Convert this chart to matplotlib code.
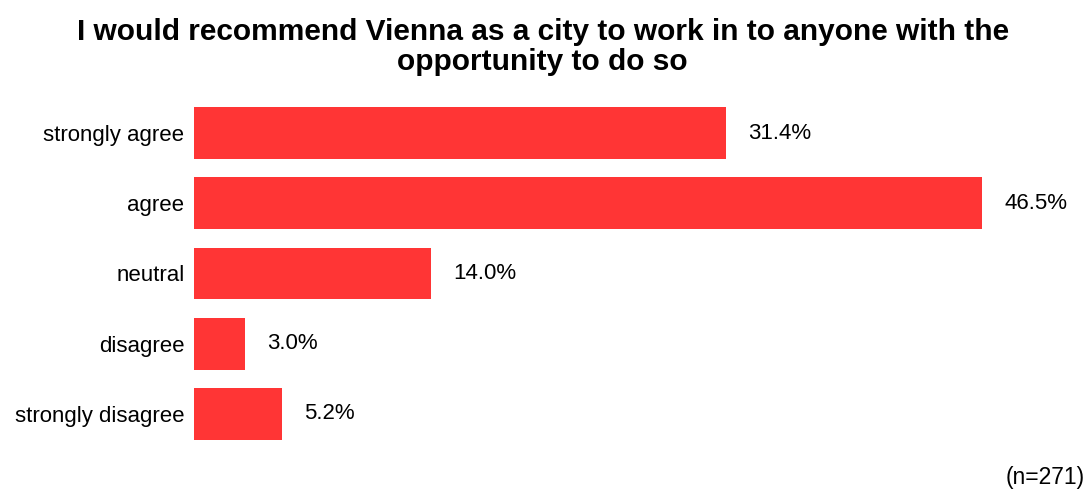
import matplotlib
matplotlib.use("Agg")
import matplotlib.pyplot as plt

plt.rcParams['font.family'] = ['Liberation Sans', 'DejaVu Sans']

categories = ["strongly agree", "agree", "neutral", "disagree", "strongly disagree"]
shares = [31.4, 46.5, 14.0, 3.0, 5.2]

fig = plt.figure(figsize=(10.92, 4.91), dpi=100)
ax = fig.add_axes([0.1777, 0.0855, 0.807, 0.715])

ypos = list(range(len(categories)))
ax.barh(ypos, shares, height=0.74, color='#FF3535')
for y, v in zip(ypos, shares):
    ax.text(v + 1.3, y, f"{v:.1f}%", va='center', ha='left', fontsize=16)

ax.set_yticks(ypos)
ax.set_yticklabels(categories, fontsize=16)
ax.set_ylim(len(categories) - 0.5, -0.5)
ax.set_xlim(0, 52)
ax.set_xticks([])
ax.tick_params(axis='y', length=0, pad=7)
for s in ax.spines.values():
    s.set_visible(False)

fig.text(0.497, 0.964, "I would recommend Vienna as a city to work in to anyone with the\nopportunity to do so",
         ha='center', va='top', fontsize=21.5, fontweight='bold', linespacing=1.1)
fig.text(0.993, 0.004, "(n=271)", ha='right', va='bottom', fontsize=16.5)

fig.savefig("out.png", dpi=100)
